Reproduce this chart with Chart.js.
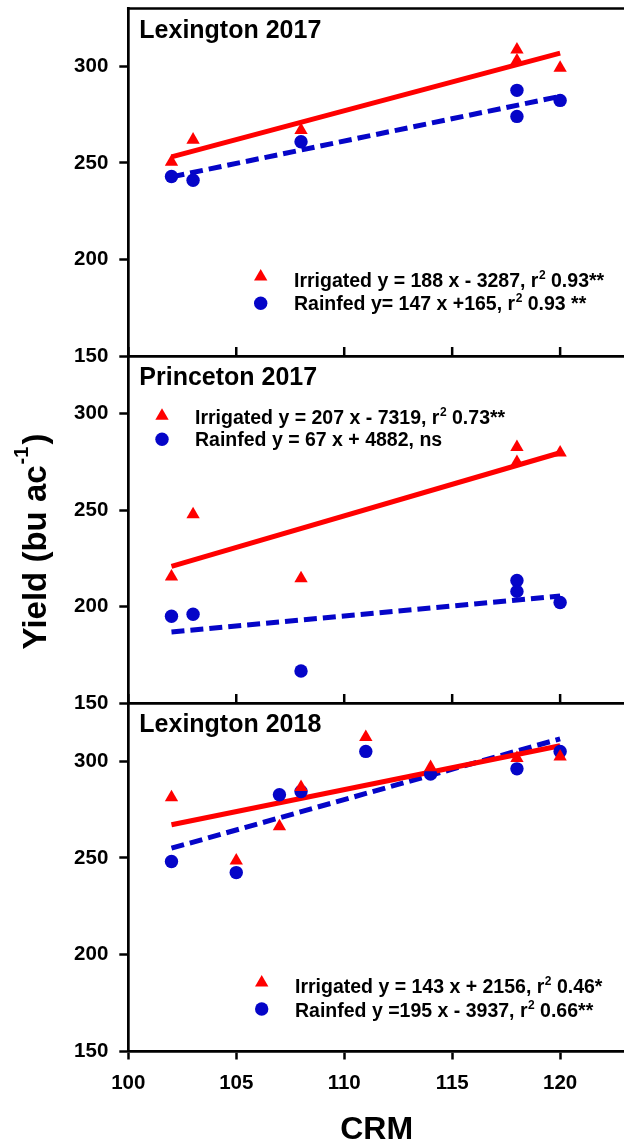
<!DOCTYPE html>
<html>
<head>
<meta charset="utf-8">
<script src="https://cdn.jsdelivr.net/npm/chart.js@4.4.0/dist/chart.umd.min.js"></script>
<style>
    html, body { margin: 0; padding: 0; background: #fff; overflow: hidden; }
    #wrap { position: relative; width: 624px; height: 1143px; overflow: hidden; }
    #wrap canvas { position: absolute; left: 0; }
</style>
</head>
<body>
<div id="wrap">
    <canvas id="chartLex17" width="640" height="380" style="top:0px"></canvas>
    <canvas id="chartPri17" width="640" height="391" style="top:336px"></canvas>
    <canvas id="chartLex18" width="640" height="463" style="top:683px"></canvas>
</div>
<script>
// ---------------------------------------------------------------- datos --- //
const yTicks = [150, 200, 250, 300];
const xTicks = [100, 105, 110, 115, 120];
const panelTitles = ['Lexington 2017', 'Princeton 2017', 'Lexington 2018'];

// Lexington 2017
const crmLex17 = [102, 103, 108, 118, 118, 120];
const irrLex17 = [250.5, 262, 267, 308.7, 303, 299.2];
const rainLex17 = [243, 241, 261, 287.6, 274.1, 282.4];

// Princeton 2017
const crmPri17 = [102, 103, 108, 118, 118, 120];
const irrPri17 = [215.5, 247.8, 214.6, 282.7, 274.9, 279.8];
const rainPri17 = [195, 196, 166.6, 213.6, 207.9, 202.1];

// Lexington 2018
const crmLex18 = [102, 105, 107, 108, 111, 114, 118, 120];
const irrLex18 = [281.2, 248.6, 266.2, 286.5, 312.3, 296.8, 301.5, 302.3];
const rainLex18 = [248.1, 242.4, 282.6, 284.3, 305, 293.3, 296, 305];

// rectas de regresion (extremos en CRM 102 y 120)
const fitCrm = [102, 120];
const fitIrrLex17 = [253.1, 306.9];
const fitRainLex17 = [242.8, 284.5];
const fitIrrPri17 = [220.9, 279.8];
const fitRainPri17 = [186.8, 205.5];
const fitIrrLex18 = [267.1, 307.9];
const fitRainLex18 = [255, 311.5];

// textos de leyenda: [antes, superindice, despues]
const legendLex17 = [
    ['Irrigated y = 188 x - 3287, r', '2', ' 0.93**'],
    ['Rainfed y= 147 x +165, r', '2', ' 0.93 **']
];
const legendPri17 = [
    ['Irrigated y = 207 x - 7319, r', '2', ' 0.73**'],
    ['Rainfed y = 67 x + 4882, ns', '', '']
];
const legendLex18 = [
    ['Irrigated y = 143 x + 2156, r', '2', ' 0.46*'],
    ['Rainfed y =195 x - 3937, r', '2', ' 0.66**']
];

// ---------------------------------------------------------------- estilo --- //
const RED = '#ff0000';
const BLUE = '#0505c8';
const FONT = '"Liberation Sans", Arial, sans-serif';

const toPoints = (xs, ys) => xs.map((x, i) => ({ x: x, y: ys[i] }));

// Marcos, ticks interiores, titulos de panel y leyendas
const panelDeco = {
    id: 'panelDeco',
    afterDatasetsDraw(chart, args, opts) {
        const { ctx, chartArea: a } = chart;
        const x = chart.scales.x;
        ctx.save();
        ctx.strokeStyle = '#000';
        ctx.fillStyle = '#000';

        if (opts.topLine) {
            ctx.lineWidth = 2.7;
            ctx.beginPath();
            ctx.moveTo(a.left - 1.35, a.top);
            ctx.lineTo(a.right + 2, a.top);
            ctx.stroke();
        }
        if (opts.innerTicks) {
            ctx.lineWidth = 2.5;
            x.ticks.forEach(t => {
                const px = x.getPixelForValue(t.value);
                ctx.beginPath();
                ctx.moveTo(px, a.bottom);
                ctx.lineTo(px, a.bottom - 9);
                ctx.stroke();
            });
        }

        // titulo del panel
        ctx.font = 'bold 25px ' + FONT;
        ctx.textBaseline = 'alphabetic';
        ctx.textAlign = 'left';
        ctx.fillText(opts.title, a.left + 11, a.top + 29);

        // leyenda
        opts.legend.forEach((row, i) => {
            const my = opts.markerY[i];
            const mx = opts.markerX;
            ctx.fillStyle = i === 0 ? RED : BLUE;
            ctx.beginPath();
            if (i === 0) {
                const r = 7.7;
                ctx.moveTo(mx, my - r);
                ctx.lineTo(mx + r * 0.866, my + r / 2);
                ctx.lineTo(mx - r * 0.866, my + r / 2);
                ctx.closePath();
            } else {
                ctx.arc(mx, my, 6.7, 0, Math.PI * 2);
            }
            ctx.fill();

            ctx.fillStyle = '#000';
            let tx = opts.textX;
            const by = opts.textY[i];
            ctx.font = 'bold 19.5px ' + FONT;
            ctx.fillText(row[0], tx, by);
            tx += ctx.measureText(row[0]).width;
            if (row[1]) {
                ctx.font = 'bold 12px ' + FONT;
                ctx.fillText(row[1], tx + 0.5, by - 8);
                tx += ctx.measureText(row[1]).width + 0.5;
            }
            ctx.font = 'bold 19.5px ' + FONT;
            ctx.fillText(row[2], tx, by);
        });
        ctx.restore();
    }
};

// Titulo del eje Y con superindice
const yTitle = {
    id: 'yTitle',
    afterDraw(chart, args, opts) {
        if (!opts.show) return;
        const ctx = chart.ctx;
        const main1 = 'Yield (bu ac';
        const sup = '-1';
        const main2 = ')';
        ctx.save();
        ctx.fillStyle = '#000';
        ctx.textBaseline = 'alphabetic';
        ctx.font = 'bold 33px ' + FONT;
        const w1 = ctx.measureText(main1).width;
        const w3 = ctx.measureText(main2).width;
        ctx.font = 'bold 20px ' + FONT;
        const w2 = ctx.measureText(sup).width;
        const total = w1 + w2 + 3 + w3;
        ctx.translate(opts.baseX, opts.centerY + total / 2);
        ctx.rotate(-Math.PI / 2);
        ctx.font = 'bold 33px ' + FONT;
        ctx.fillText(main1, 0, 0);
        ctx.font = 'bold 20px ' + FONT;
        ctx.fillText(sup, w1 + 1, -18);
        ctx.font = 'bold 33px ' + FONT;
        ctx.fillText(main2, w1 + w2 + 3, 0);
        ctx.restore();
    }
};

// quitar el margen automatico que Chart.js reserva para las etiquetas extremas
const noEdgePadding = s => {
    s.paddingTop = 0;
    s.paddingBottom = 0;
    s.paddingLeft = 0;
    s.paddingRight = 0;
};

function makePanel(canvasId, o) {
    const ctx = document.getElementById(canvasId).getContext('2d');
    return new Chart(ctx, {
        data: {
            datasets: [
                {
                    type: 'line',
                    data: toPoints(fitCrm, o.fitIrr),
                    borderColor: RED,
                    borderWidth: 5,
                    pointRadius: 0,
                    order: 3
                },
                {
                    type: 'line',
                    data: toPoints(fitCrm, o.fitRain),
                    borderColor: BLUE,
                    borderWidth: 5,
                    borderDash: [13, 6],
                    pointRadius: 0,
                    order: 4
                },
                {
                    type: 'scatter',
                    label: 'Irrigated',
                    data: toPoints(o.crm, o.irr),
                    pointStyle: 'triangle',
                    pointRadius: 7.7,
                    pointBorderWidth: 0,
                    backgroundColor: RED,
                    borderColor: RED,
                    order: 1
                },
                {
                    type: 'scatter',
                    label: 'Rainfed',
                    data: toPoints(o.crm, o.rain),
                    pointStyle: 'circle',
                    pointRadius: 6.7,
                    pointBorderWidth: 0,
                    backgroundColor: BLUE,
                    borderColor: BLUE,
                    order: 2
                }
            ]
        },
        options: {
            responsive: false,
            animation: false,
            events: [],
            layout: { autoPadding: false, padding: { top: o.padTop, right: 15.1, left: 0, bottom: 0 } },
            plugins: {
                legend: { display: false },
                tooltip: { enabled: false },
                panelDeco: {
                    title: o.title,
                    legend: o.legend,
                    topLine: o.topLine,
                    innerTicks: !o.showX,
                    markerX: o.markerX,
                    markerY: o.markerY,
                    textX: o.textX,
                    textY: o.textY
                },
                yTitle: { show: !!o.yTitle, baseX: 46, centerY: 541.5 - 336 }
            },
            scales: {
                x: {
                    type: 'linear',
                    min: 100,
                    max: 123,
                    afterBuildTicks: s => { s.ticks = xTicks.map(v => ({ value: v })); },
                    afterFit: s => { s.height = o.xHeight; noEdgePadding(s); },
                    border: { display: true, color: '#000', width: 2.7 },
                    grid: {
                        drawOnChartArea: false,
                        drawTicks: o.showX,
                        tickLength: 8,
                        tickWidth: 2.5,
                        tickColor: '#000'
                    },
                    ticks: {
                        display: o.showX,
                        color: '#000',
                        padding: 11.5,
                        maxRotation: 0,
                        font: { family: FONT, size: 20.5, weight: 'bold' }
                    },
                    title: {
                        display: o.showX,
                        text: 'CRM',
                        color: '#000',
                        padding: 0,
                        font: { family: FONT, size: 32, weight: 'bold', lineHeight: 1 }
                    }
                },
                y: {
                    type: 'linear',
                    min: 150,
                    max: 330,
                    afterBuildTicks: s => { s.ticks = yTicks.map(v => ({ value: v })); },
                    afterFit: s => { s.width = 128.3; noEdgePadding(s); },
                    border: { display: true, color: '#000', width: 2.7 },
                    grid: {
                        drawOnChartArea: false,
                        drawTicks: true,
                        tickLength: 9,
                        tickWidth: 2.5,
                        tickColor: '#000'
                    },
                    ticks: {
                        color: '#000',
                        padding: 11,
                        font: { family: FONT, size: 20.5, weight: 'bold' }
                    }
                }
            }
        },
        plugins: [panelDeco, yTitle]
    });
}

makePanel('chartLex17', {
    crm: crmLex17, irr: irrLex17, rain: rainLex17,
    fitIrr: fitIrrLex17, fitRain: fitRainLex17,
    title: panelTitles[0], legend: legendLex17,
    padTop: 8.5, xHeight: 24, showX: false, topLine: true,
    markerX: 260.7, markerY: [276.7, 303.3], textX: 294, textY: [286.7, 310]
});

makePanel('chartPri17', {
    crm: crmPri17, irr: irrPri17, rain: rainPri17,
    fitIrr: fitIrrPri17, fitRain: fitRainPri17,
    title: panelTitles[1], legend: legendPri17,
    padTop: 20, xHeight: 24, showX: false, topLine: false, yTitle: true,
    markerX: 162, markerY: [416 - 336, 439.3 - 336], textX: 195, textY: [424 - 336, 446 - 336]
});

makePanel('chartLex18', {
    crm: crmLex18, irr: irrLex18, rain: rainLex18,
    fitIrr: fitIrrLex18, fitRain: fitRainLex18,
    title: panelTitles[2], legend: legendLex18,
    padTop: 20, xHeight: 94.5, showX: true, topLine: false,
    markerX: 261.7, markerY: [982.7 - 683, 1009 - 683], textX: 295, textY: [992.7 - 683, 1016.7 - 683]
});
</script>
</body>
</html>
